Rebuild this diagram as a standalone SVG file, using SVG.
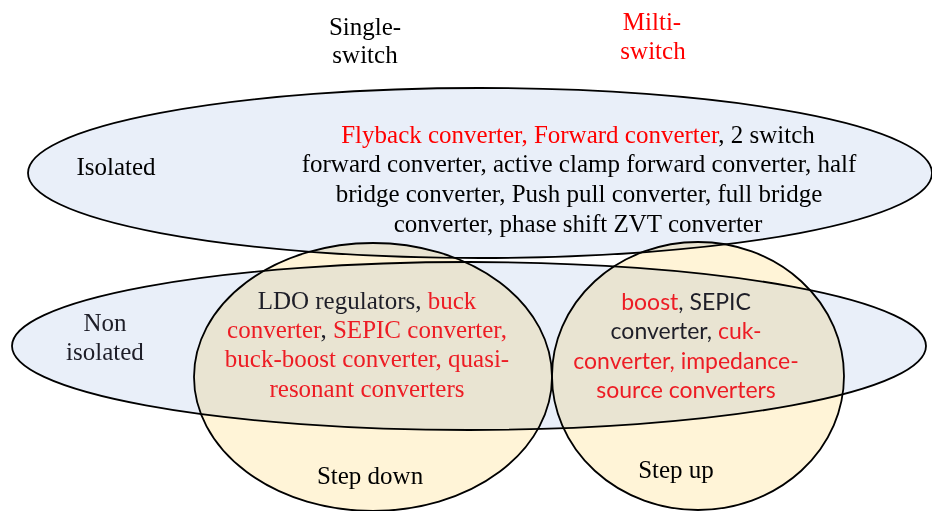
<svg xmlns="http://www.w3.org/2000/svg" width="932" height="511" viewBox="0 0 932 511">
  <style>
    .set { fill: #e9eff9; stroke: #000; stroke-width: 1.8; }
    .range { fill: #fff4d7; stroke: #000; stroke-width: 1.8; mix-blend-mode: multiply; }
    .serif { font-family: "Liberation Serif", "Times New Roman", serif; font-size: 25px; text-anchor: middle; }
    .sans { font-family: Lato, "Open Sans", sans-serif; font-size: 23px; text-anchor: middle; }
    .ink { fill: #000; }
    .dark { fill: #1e1e28; }
    .red { fill: #ff0000; }
    .rose { fill: #ed1c24; }
  </style>
  <rect width="932" height="511" fill="#fff"/>

  <!-- column headings -->
  <g id="heading-single">
    <text class="serif ink" x="365" y="35">Single-</text>
    <text class="serif ink" x="365" y="63">switch</text>
  </g>
  <g id="heading-multi">
    <text class="serif red" x="652" y="30">Milti-</text>
    <text class="serif red" x="653" y="59">switch</text>
  </g>

  <!-- isolated topologies -->
  <g id="isolated">
    <ellipse class="set" cx="480" cy="173" rx="452" ry="85"/>
    <text class="serif ink" x="116" y="175">Isolated</text>
    <text class="serif ink" x="578" y="143"><tspan class="red">Flyback converter, Forward converter</tspan>, 2 switch</text>
    <text class="serif ink" x="579" y="172">forward converter, active clamp forward converter, half</text>
    <text class="serif ink" x="579" y="202">bridge converter, Push pull converter, full bridge</text>
    <text class="serif ink" x="578" y="232">converter, phase shift ZVT converter</text>
  </g>

  <!-- non-isolated topologies -->
  <g id="non-isolated">
    <ellipse class="set" cx="469" cy="346" rx="457" ry="84"/>
    <text class="serif dark" x="105" y="331">Non</text>
    <text class="serif dark" x="105" y="360">isolated</text>
  </g>

  <!-- step-down family -->
  <g id="step-down">
    <ellipse class="range" cx="373" cy="377" rx="179" ry="134"/>
    <text class="serif dark" x="367" y="309">LDO regulators, <tspan class="rose">buck</tspan></text>
    <text class="serif dark" x="367" y="338"><tspan class="rose">converter</tspan>, <tspan class="rose">SEPIC converter,</tspan></text>
    <text class="serif rose" x="367" y="367">buck-boost converter, quasi-</text>
    <text class="serif rose" x="367" y="397">resonant converters</text>
    <text class="serif ink" x="370" y="484">Step down</text>
  </g>

  <!-- step-up family -->
  <g id="step-up">
    <ellipse class="range" cx="698" cy="376" rx="146" ry="134"/>
    <text class="sans dark" x="686" y="310"><tspan class="rose">boost</tspan>, SEPIC</text>
    <text class="sans dark" x="686" y="339">converter, <tspan class="rose">cuk-</tspan></text>
    <text class="sans rose" x="686" y="369">converter, impedance-</text>
    <text class="sans rose" x="686" y="398">source converters</text>
    <text class="serif ink" x="676" y="478">Step up</text>
  </g>

  <g id="connectors"/>
</svg>
